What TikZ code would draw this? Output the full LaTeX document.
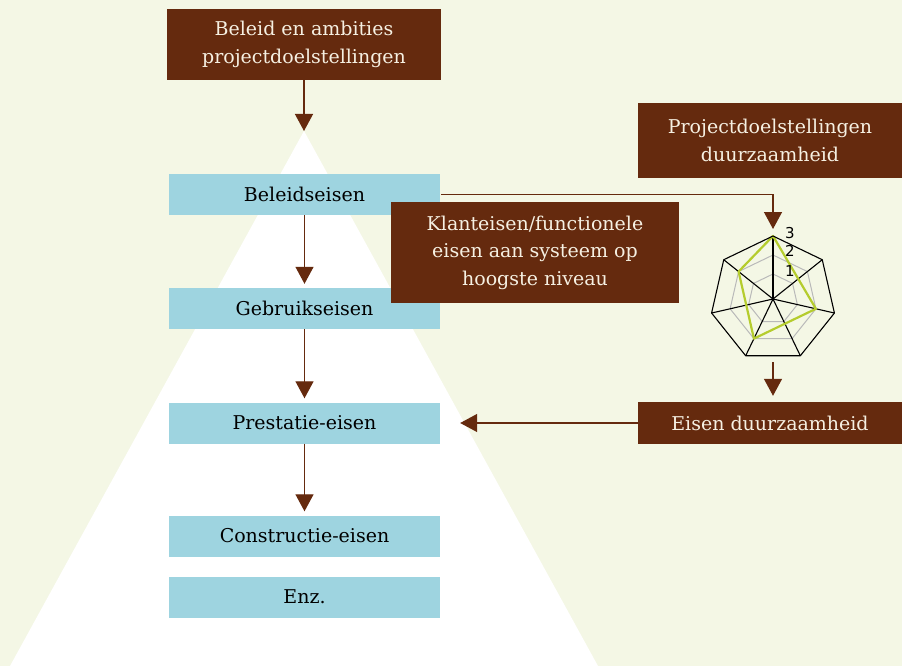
\documentclass[tikz,border=0pt]{standalone}
\usepackage{fontspec}
\setmainfont{DejaVu Serif}
\newfontfamily\radarfont{DejaVu Sans}
\usetikzlibrary{arrows.meta,calc}
\definecolor{bg}{HTML}{F4F7E5}
\definecolor{brn}{HTML}{652A0E}
\definecolor{blu}{HTML}{9ED4E0}
\definecolor{txt}{HTML}{F6F0E2}
\definecolor{grn}{HTML}{B5CC2E}
\tikzset{
  brownbox/.style={fill=brn,text=txt,inner sep=0pt,align=center,font=\fontsize{19}{27.5}\selectfont},
  bluebox/.style={fill=blu,text=black,inner sep=0pt,minimum width=271pt,minimum height=41pt,font=\fontsize{19}{22}\selectfont},
  conn/.style={draw=brn,line width=1.3pt,-{Triangle[width=18pt,length=17pt]}},
  radarlabel/.style={font=\radarfont\fontsize{15}{15}\selectfont,inner sep=0pt},
}
\begin{document}
\begin{tikzpicture}[x=1pt,y=-1pt]
\useasboundingbox (0,0) rectangle (902,666);
\fill[bg] (0,0) rectangle (902,666);
\fill[white] (304,131) -- (598,666) -- (10,666) -- cycle;
\coordinate (apex) at (304,131);
% brown boxes
\node[brownbox,minimum width=274pt,minimum height=71pt] (top) at (304,44.5) {Beleid en ambities\\projectdoelstellingen};
\node[brownbox,minimum width=264pt,minimum height=75pt] (pdd) at (770,140.5) {Projectdoelstellingen\\duurzaamheid};
% blue boxes
\node[bluebox] (b1) at (304.5,194.5) {Beleidseisen};
\node[bluebox] (b2) at (304.5,308.5) {Gebruikseisen};
\node[bluebox] (b3) at (304.5,423) {Prestatie-eisen};
\node[bluebox] (b4) at (304.5,536) {Constructie-eisen};
\node[bluebox] (b5) at (304.5,597) {Enz.};
\node[brownbox,minimum width=288pt,minimum height=101pt] (klant) at (535,252.5) {Klanteisen/functionele\\eisen aan systeem op\\hoogste niveau};
\node[brownbox,minimum width=264pt,minimum height=42pt] (eisen) at (770,423) {Eisen duurzaamheid};
% radar
\coordinate (rc) at (773,299);
\foreach \r in {25,44} {
  \draw[gray!55,line width=1pt] ($(rc)+(-90:\r)$) \foreach \k in {1,...,6} { -- ($(rc)+({-90+\k*360/7}:\r)$) } -- cycle;
}
\foreach \k in {0,...,6} {
  \draw[black,line width=1.1pt] (rc) -- ($(rc)+({-90+\k*360/7}:63)$);
}
\draw[grn,line width=2.2pt,line join=round] ($(rc)+(-90:63)$) -- ($(rc)+({-90+2*360/7}:44)$) -- ($(rc)+({-90+4*360/7}:44)$) -- ($(rc)+({-90+6*360/7}:44)$) -- cycle;
\draw[black,line width=1.1pt,line join=round] ($(rc)+(-90:63)$) \foreach \k in {1,...,6} { -- ($(rc)+({-90+\k*360/7}:63)$) } -- cycle;
\node[radarlabel] (l3) at (790,233) {3};
\node[radarlabel] (l2) at (790,251) {2};
\node[radarlabel] (l1) at (790,271) {1};
\coordinate (rtop) at (773,229);
\coordinate (rbot) at (773,362);
% connectors
\draw[conn] (top.south) -- (apex);
\draw[conn,shorten >=4pt] (b1.south) -- (b2.north);
\draw[conn,shorten >=4pt] (b2.south) -- (b3.north);
\draw[conn,shorten >=4pt] (b3.south) -- (b4.north);
\draw[conn] ([xshift=1pt]b1.east) -| (rtop);
\draw[conn,shorten >=6pt] (rbot) -- (eisen.north -| rbot);
\draw[conn,shorten >=20pt] (eisen.west) -- (b3.east);
\end{tikzpicture}
\end{document}
